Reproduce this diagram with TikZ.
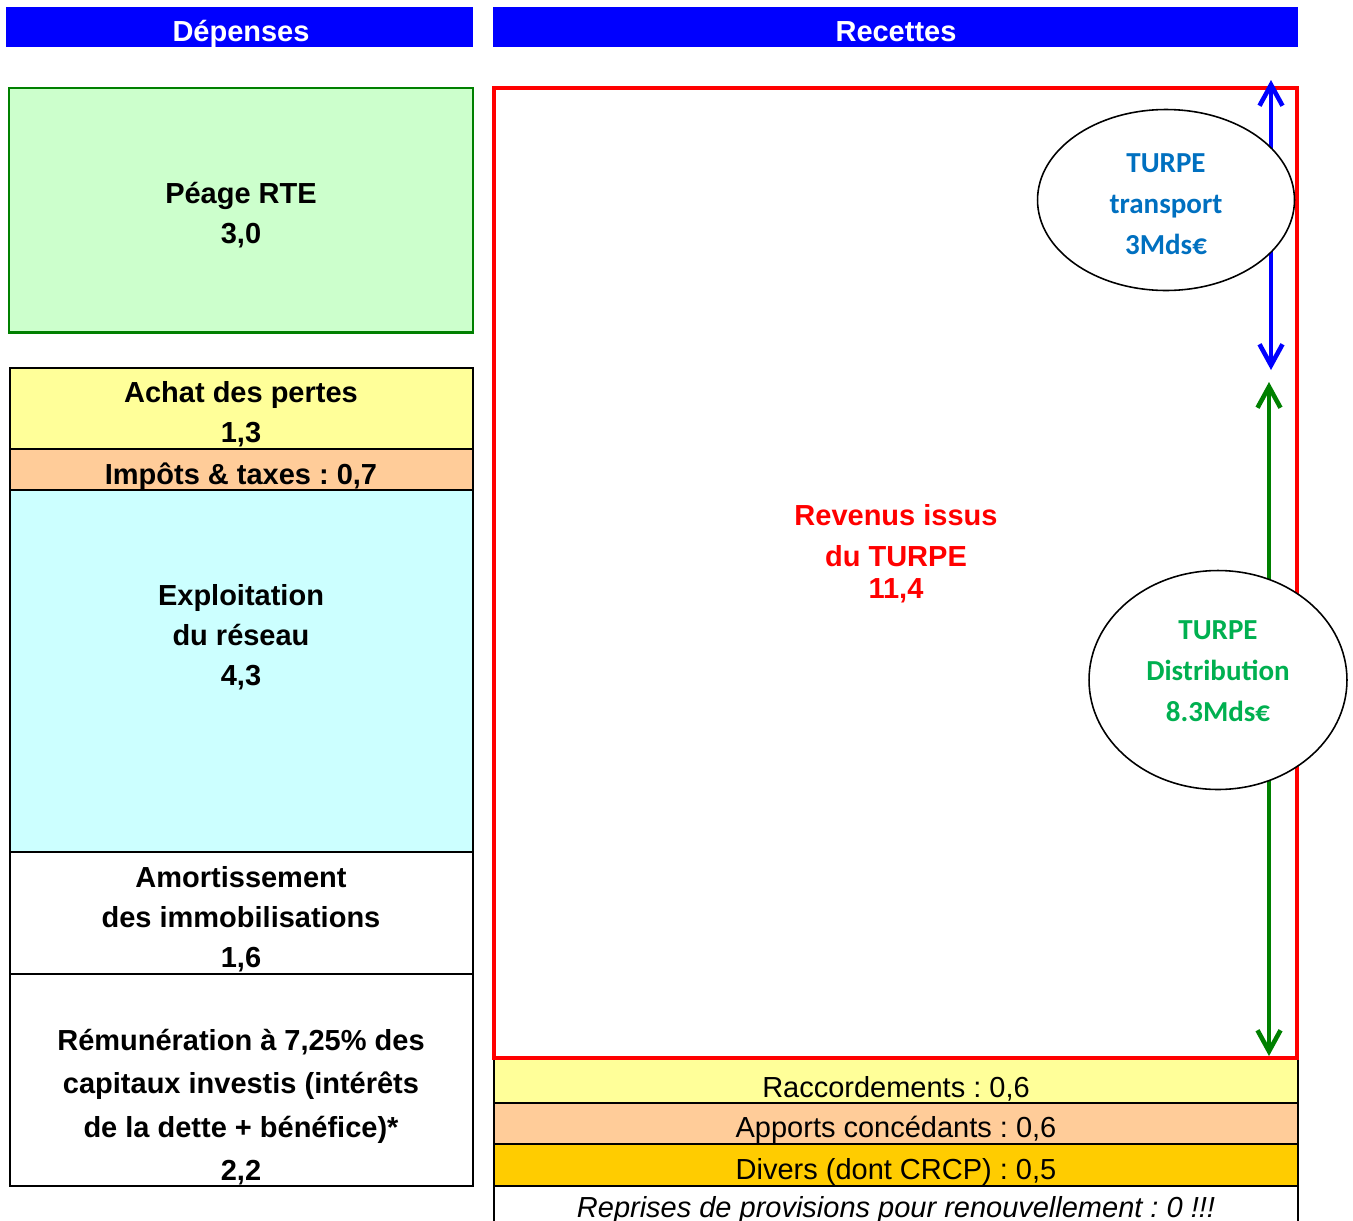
\documentclass[tikz,border=0pt]{standalone}
\usepackage{fontspec}
\setmainfont{Liberation Sans}
\newfontfamily\calib{Carlito}
\usetikzlibrary{arrows.meta,shapes.geometric}
\definecolor{vertclair}{RGB}{204,255,204}
\definecolor{jaune}{RGB}{255,255,153}
\definecolor{peche}{RGB}{255,204,153}
\definecolor{cyanclair}{RGB}{204,255,255}
\definecolor{orange}{RGB}{255,204,0}
\definecolor{bleuT}{RGB}{0,112,192}
\definecolor{vertD}{RGB}{0,176,80}
\definecolor{vertF}{RGB}{0,128,0}
\definecolor{bleuF}{RGB}{0,0,255}
\frenchspacing
\begin{document}
\begin{tikzpicture}[x=0.02cm,y=-0.02cm]
	\tikzset{txt/.style={font=\fontsize{16.5}{22.8}\selectfont\bfseries,align=center,inner sep=0},
		ligne/.style={font=\fontsize{16.5}{20}\selectfont,inner sep=0},
		bloc/.style={draw=black,line width=1pt},
		fleche/.style={line width=2.6pt,{Straight Barb[length=0.42cm,width=0.46cm]}-{Straight Barb[length=0.42cm,width=0.46cm]}},
		bulle/.style={ellipse,draw=black,line width=0.9pt,fill=white,inner sep=0},
		btxt/.style={align=center,inner sep=0,font=\calib\fontsize{16.5}{23.3}\selectfont\bfseries}}
	\useasboundingbox (0,0) rectangle (1353,1221);
	% depenses
	\fill[bleuF](6,7)rectangle(473,47);
	\node[txt,text=white](dep) at (241,34){Dépenses};
	\draw[vertF,line width=1.7pt,fill=vertclair](9,88)rectangle(473,332);
	\node[txt](peage) at (241,215){Péage RTE\\3,0};
	\foreach \h/\b/\c in {368/449/jaune,449/490/peche,490/852/cyanclair,852/974/white,974/1186/white}
	\draw[bloc,fill=\c](10,\h)rectangle(473,\b);
	\node[txt](pertes) at (241,414){Achat des pertes\\1,3};
	\node[txt](impots) at (241,477){Impôts \& taxes : 0,7};
	\node[txt](exploit) at (241,637){Exploitation\\du réseau\\4,3};
	\node[txt](amort) at (241,919){Amortissement\\des immobilisations\\1,6};
	\node[txt,font=\fontsize{16.5}{24.6}\selectfont\bfseries](remu) at (241,1107){Rémunération à 7,25\% des\\capitaux investis (intérêts\\de la dette + bénéfice)*\\2,2};
	% recettes
	\fill[bleuF](493,7)rectangle(1298,47);
	\node[txt,text=white](rec) at (896,32){Recettes};
	\foreach \h/\b/\c in {1058/1103/jaune,1103/1144/peche,1144/1186/orange}
	\draw[bloc,fill=\c](494,\h)rectangle(1298,\b);
	\draw[bloc](494,1221)--(494,1186)--(1298,1186)--(1298,1221);
	\node[ligne](racc) at (896,1089){Raccordements : 0,6};
	\node[ligne](apports) at (896,1130){Apports concédants : 0,6};
	\node[ligne](divers) at (896,1172){Divers (dont CRCP) : 0,5};
	\node[ligne,font=\fontsize{16.5}{20}\selectfont\itshape](reprises) at (896,1210){Reprises de provisions pour renouvellement : 0 !!!};
	\draw[red,line width=2.3pt](494,88)rectangle(1297,1058);
	\node[txt,text=red](turpe) at (896,554){Revenus issus\\du TURPE\\[-0.15cm]11,4};
	% fleches
	\coordinate (bh) at (1271,80); \coordinate (bb) at (1271,370);
	\coordinate (vh) at (1269,382); \coordinate (vb) at (1269,1056);
	\draw[fleche,bleuF](bh)--(bb);
	\draw[fleche,vertF](vh)--(vb);
	\node[bulle,minimum width=5.14cm,minimum height=3.62cm](transp) at (1166,200){};
	\node[btxt,text=bleuT](transpt) at (1166,204){TURPE\\transport\\3Mds€};
	\node[bulle,minimum width=5.16cm,minimum height=4.38cm](distrib) at (1218,680){};
	\node[btxt,text=vertD](distribt) at (1218,671){TURPE\\Distribution\\8.3Mds€};
\end{tikzpicture}
\end{document}
